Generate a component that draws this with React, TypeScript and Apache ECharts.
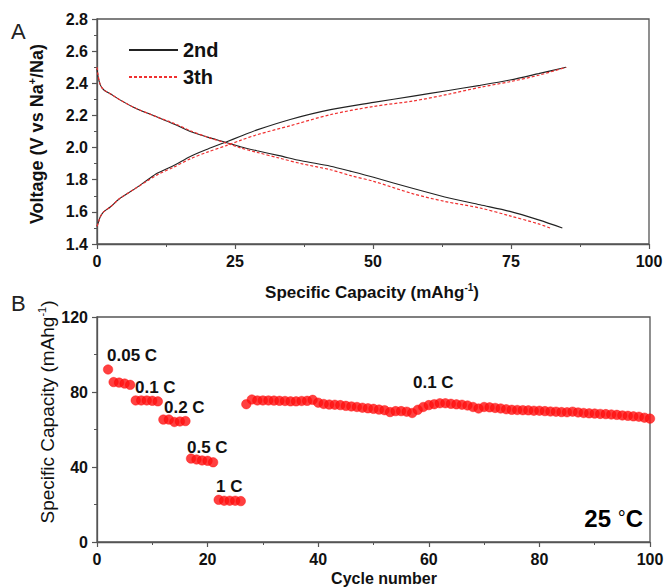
import React, { useEffect, useRef } from "react";
import * as echarts from "echarts";

// Panel A: voltage profiles [capacity mAh/g, voltage V]
const charge2nd: [number, number][] = [
  [0, 1.51], [0.3, 1.54], [0.6, 1.57], [1.2, 1.6], [2.4, 1.63], [4, 1.68], [6.7, 1.74], [9, 1.795],
  [10.9, 1.84], [14, 1.89], [16.9, 1.945], [20, 1.99], [23.4, 2.035], [26, 2.07], [29, 2.11], [35, 2.175],
  [42.3, 2.236], [50.1, 2.281], [57.3, 2.32], [63.4, 2.354], [69.4, 2.387], [74.8, 2.42], [80, 2.46], [85, 2.5],
];
const discharge2nd: [number, number][] = [
  [0, 2.49], [0.2, 2.44], [0.6, 2.39], [1.2, 2.36], [2.4, 2.335], [4, 2.3], [6.7, 2.25], [10.9, 2.19],
  [14, 2.145], [16.9, 2.1], [20, 2.065], [23.4, 2.032], [26, 2.005], [29, 1.98], [33, 1.95], [37, 1.918],
  [42.3, 1.884], [46, 1.852], [50.1, 1.815], [57.3, 1.745], [63, 1.693], [69.4, 1.644], [74.8, 1.603],
  [80, 1.55], [84.3, 1.5],
];
const charge3th: [number, number][] = [
  [0, 1.51], [0.3, 1.54], [0.6, 1.57], [1.2, 1.6], [2.4, 1.63], [4, 1.68], [6.7, 1.74], [9, 1.79],
  [10.9, 1.83], [14, 1.88], [16.9, 1.93], [20, 1.972], [23.4, 2.012], [26, 2.045], [29, 2.08], [35, 2.136],
  [42.3, 2.205], [50.1, 2.256], [57.3, 2.29], [63.4, 2.33], [69.4, 2.375], [74.8, 2.41], [80, 2.45], [85, 2.5],
];
const discharge3th: [number, number][] = [
  [0, 2.5], [0.2, 2.45], [0.6, 2.39], [1.2, 2.36], [2.4, 2.335], [4, 2.3], [6.7, 2.25], [10.9, 2.19],
  [14, 2.15], [16.9, 2.105], [20, 2.065], [23.4, 2.028], [26, 1.998], [29, 1.97], [33, 1.935], [37, 1.9],
  [42.3, 1.862], [46, 1.825], [50.1, 1.79], [57.3, 1.712], [63, 1.665], [69.4, 1.624], [74.8, 1.575],
  [80, 1.525], [82.4, 1.495],
];

// Panel B: rate capability, cycles 2..100
const firstCycle = 2;
const capacity: number[] = [
  92, 85.3, 85, 84.5, 83.8, // 0.05 C (2-6)
  75.5, 75.5, 75.5, 75.3, 75, // 0.1 C (7-11)
  65.3, 65.3, 64, 64.3, 64.5, // 0.2 C (12-16)
  44.5, 44, 43.5, 43.3, 42.5, // 0.5 C (17-21)
  22.5, 22, 22, 22, 21.8, // 1 C (22-26)
  73.5, 76, 75.5, 75.5, 75.5, 75.4, 75.3, 75.2, 75, 75, 75.2, 75.3, 75.8, 74.3, // 27-40
  73.6, 73.3, 73.2, 73, 72.6, 72.3, 72, 71.6, 71.3, 71, // 41-50
  70.6, 70.3, 69.3, 69.8, 69.8, 69.5, 68.8, 70.5, 72, 73, // 51-60
  73.5, 74, 74, 73.7, 73.4, 73.2, 72.8, 72, 71.2, 72, // 61-70
  71.8, 71.5, 71.2, 70.8, 70.5, 70.4, 70.3, 70.2, 70, 70, // 71-80
  69.8, 69.6, 69.5, 69.3, 69.2, 69.5, 69.1, 68.8, 68.6, 68.5, // 81-90
  68.3, 68.2, 68, 67.8, 67.5, 67.3, 67, 66.8, 66.3, 65.8, // 91-100
];

const voltageTicks = [1.4, 2.8, 0.2];
const capacityAxis = [0, 100, 25];
const cycleAxis = [0, 100, 20];
const capTicks = [0, 120, 40];

const rateLabels: { text: string; x: number; y: number }[] = [
  { text: "0.05 C", x: 107, y: 355 },
  { text: "0.1 C", x: 135, y: 387 },
  { text: "0.2 C", x: 164, y: 407 },
  { text: "0.5 C", x: 187, y: 447 },
  { text: "1 C", x: 216, y: 486 },
  { text: "0.1 C", x: 413, y: 382 },
];

const FONT = "'Liberation Sans', Arial, sans-serif";
const AXIS = "#555";
const TXT = "#111";

export default function App() {
  const ref = useRef<HTMLDivElement>(null);
  useEffect(() => {
    const chart = echarts.init(ref.current!, null, { renderer: "svg" });
    const axisCommon = {
      axisLine: { show: true, onZero: false, lineStyle: { color: AXIS, width: 1.3 } },
      axisTick: { show: true, inside: false, length: 5, lineStyle: { color: AXIS, width: 1.2 } },
      minorTick: { show: true, splitNumber: 2, length: 3, lineStyle: { color: AXIS, width: 1 } },
      splitLine: { show: false },
      axisLabel: { color: TXT, fontSize: 16, fontWeight: "bold", fontFamily: FONT, margin: 9 },
    };
    const cycles = capacity.map((_, i) => i + firstCycle);
    chart.setOption({
      animation: false,
      backgroundColor: "#fff",
      textStyle: { fontFamily: FONT },
      grid: [
        { left: 97, top: 19, right: 18, height: 225, show: true, borderColor: AXIS, borderWidth: 1.3 },
        { left: 97, top: 317, right: 17, height: 225, show: true, borderColor: AXIS, borderWidth: 1.3 },
      ],
      xAxis: [
        {
          ...axisCommon,
          type: "value",
          gridIndex: 0,
          min: capacityAxis[0],
          max: capacityAxis[1],
          interval: capacityAxis[2],
        },
        {
          ...axisCommon,
          type: "value",
          gridIndex: 1,
          min: cycleAxis[0],
          max: cycleAxis[1],
          interval: cycleAxis[2],
        },
      ],
      yAxis: [
        {
          ...axisCommon,
          type: "value",
          gridIndex: 0,
          min: voltageTicks[0],
          max: voltageTicks[1],
          interval: voltageTicks[2],
          axisLabel: { ...axisCommon.axisLabel, formatter: (v: number) => v.toFixed(1) },
        },
        {
          ...axisCommon,
          type: "value",
          gridIndex: 1,
          min: capTicks[0],
          max: capTicks[1],
          interval: capTicks[2],
        },
      ],
      legend: {
        orient: "vertical",
        left: 123,
        top: 35,
        itemWidth: 49,
        itemHeight: 10,
        itemGap: 7,
        data: ["2nd", "3th"],
        itemStyle: { opacity: 0 },
        textStyle: { fontSize: 20, fontWeight: "bold", color: TXT, fontFamily: FONT, lineHeight: 20 },
      },
      series: [
        {
          name: "2nd", type: "line", xAxisIndex: 0, yAxisIndex: 0, data: charge2nd, symbol: "none",
          smooth: 0.3, lineStyle: { color: "#222", width: 1.1 }, itemStyle: { color: "#222" }, z: 3,
        },
        {
          name: "2nd", type: "line", xAxisIndex: 0, yAxisIndex: 0, data: discharge2nd, symbol: "none",
          smooth: 0.3, lineStyle: { color: "#222", width: 1.1 }, itemStyle: { color: "#222" }, z: 3,
        },
        {
          name: "3th", type: "line", xAxisIndex: 0, yAxisIndex: 0, data: charge3th, symbol: "none",
          smooth: 0.3, lineStyle: { color: "#f03030", width: 1.2, type: [3, 2] }, itemStyle: { color: "#f03030" }, z: 4,
        },
        {
          name: "3th", type: "line", xAxisIndex: 0, yAxisIndex: 0, data: discharge3th, symbol: "none",
          smooth: 0.3, lineStyle: { color: "#f03030", width: 1.2, type: [3, 2] }, itemStyle: { color: "#f03030" }, z: 4,
        },
        {
          name: "capacity", type: "scatter", xAxisIndex: 1, yAxisIndex: 1,
          data: cycles.map((c, i) => [c, capacity[i]]),
          symbol: "circle", symbolSize: 9.5,
          itemStyle: { color: "#ff1010", borderColor: "#ff0000", borderWidth: 0.5 },
        },
      ],
      graphic: [
        { type: "text", x: 11, y: 31, style: { text: "A", font: `22px ${FONT}`, fill: "#222", verticalAlign: "middle" } },
        { type: "text", x: 11, y: 303, style: { text: "B", font: `22px ${FONT}`, fill: "#222", verticalAlign: "middle" } },
        {
          type: "text", x: 372, y: 292,
          style: {
            text: "{b|Specific Capacity (mAhg}{s|-1}{b|)}",
            align: "center", verticalAlign: "middle",
            rich: {
              b: { fontSize: 17, fontWeight: "bold", fontFamily: FONT, fill: TXT, color: TXT, lineHeight: 20 },
              s: { fontSize: 10, fontWeight: "bold", fontFamily: FONT, fill: TXT, color: TXT, lineHeight: 10, verticalAlign: "top" },
            },
          },
        },
        {
          type: "text", x: 37, y: 134, rotation: Math.PI / 2,
          style: {
            text: "{b|Voltage (V vs Na}{s|+}{b|/Na)}",
            align: "center", verticalAlign: "middle",
            rich: {
              b: { fontSize: 18, fontWeight: "bold", fontFamily: FONT, fill: TXT, color: TXT, lineHeight: 21 },
              s: { fontSize: 11, fontWeight: "bold", fontFamily: FONT, fill: TXT, color: TXT, lineHeight: 10, verticalAlign: "top" },
            },
          },
        },
        {
          type: "text", x: 47, y: 412, rotation: Math.PI / 2,
          style: {
            text: "{b|Specific Capacity (mAhg}{s|-1}{b|)}",
            align: "center", verticalAlign: "middle",
            rich: {
              b: { fontSize: 19, fontFamily: FONT, fill: TXT, color: TXT, lineHeight: 22 },
              s: { fontSize: 11, fontFamily: FONT, fill: TXT, color: TXT, lineHeight: 10, verticalAlign: "top" },
            },
          },
        },
        {
          type: "text", x: 384, y: 578,
          style: { text: "Cycle number", font: `bold 16px ${FONT}`, fill: TXT, align: "center", verticalAlign: "middle" },
        },
        ...rateLabels.map((l) => ({
          type: "text", x: l.x, y: l.y,
          style: { text: l.text, font: `bold 17px ${FONT}`, fill: TXT, align: "left", verticalAlign: "middle" },
        })),
        {
          type: "text", x: 643, y: 518,
          style: {
            text: "{a|25 }{d|°}{b|C}",
            align: "right", verticalAlign: "middle",
            rich: {
              a: { fontSize: 24, fontWeight: "bold", fontFamily: FONT, fill: "#000", color: "#000" },
              d: { fontSize: 20, fontFamily: FONT, fill: "#000", color: "#000" },
              b: { fontSize: 24, fontWeight: "bold", fontFamily: FONT, fill: "#000", color: "#000" },
            },
          },
        },
      ],
    });
    return () => chart.dispose();
  }, []);
  return (
    <div
      ref={ref}
      style={{ position: "absolute", left: 0, top: 0, width: 667, height: 588, background: "#fff" }}
    />
  );
}
